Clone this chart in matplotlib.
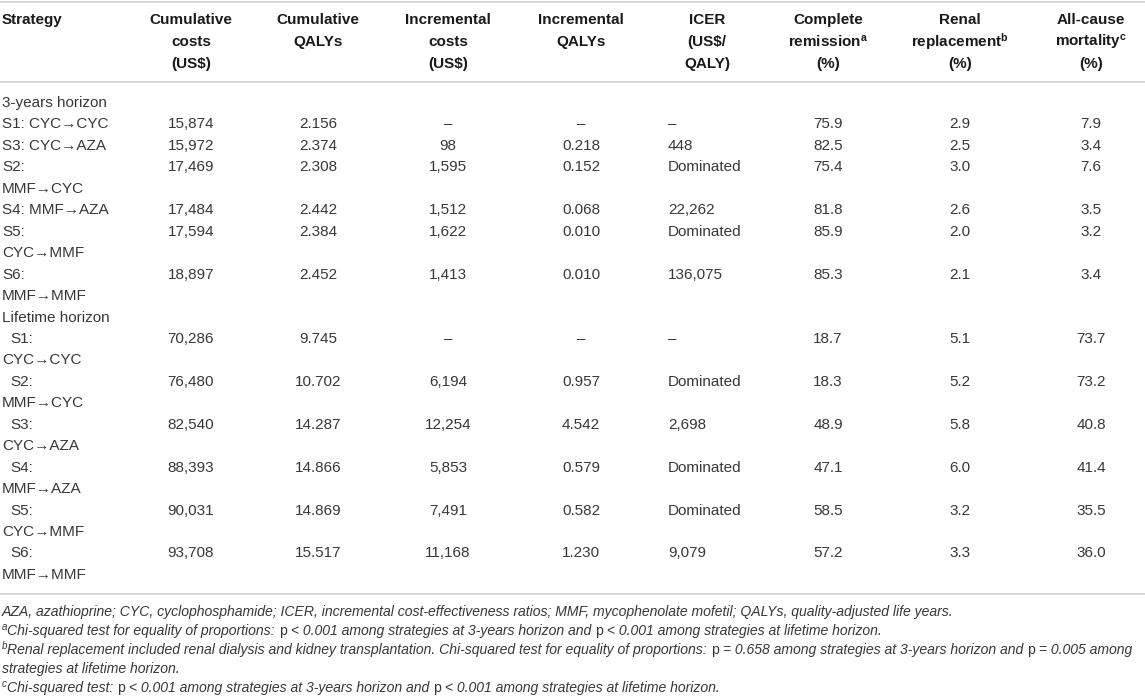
import matplotlib
matplotlib.use("Agg")
import matplotlib.pyplot as plt
from matplotlib.font_manager import FontProperties

plt.rcParams['font.family'] = ['Liberation Sans', 'DejaVu Sans']
plt.rcParams['mathtext.fontset'] = 'custom'
plt.rcParams['mathtext.rm'] = 'Liberation Sans'
plt.rcParams['mathtext.it'] = 'Liberation Sans:italic'
plt.rcParams['mathtext.bf'] = 'Liberation Sans:bold'

# ---------------- data ----------------
headers = [
    ["Strategy"],
    ["Cumulative", "costs", "(US$)"],
    ["Cumulative", "QALYs"],
    ["Incremental", "costs", "(US$)"],
    ["Incremental", "QALYs"],
    ["ICER", "(US$/", "QALY)"],
    ["Complete", r"remission$^{\mathbf{a}}$", "(%)"],
    ["Renal", r"replacement$^{\mathbf{b}}$", "(%)"],
    ["All-cause", r"mortality$^{\mathbf{c}}$", "(%)"],
]

horizons = ["3-years horizon", "Lifetime horizon"]

strategies_3y = [["S1: CYC→CYC"], ["S3: CYC→AZA"], ["S2:", "MMF→CYC"],
                 ["S4: MMF→AZA"], ["S5:", "CYC→MMF"], ["S6:", "MMF→MMF"]]
cum_costs_3y = ["15,874", "15,972", "17,469", "17,484", "17,594", "18,897"]
cum_qalys_3y = ["2.156", "2.374", "2.308", "2.442", "2.384", "2.452"]
inc_costs_3y = ["–", "98", "1,595", "1,512", "1,622", "1,413"]
inc_qalys_3y = ["–", "0.218", "0.152", "0.068", "0.010", "0.010"]
icer_3y = ["–", "448", "Dominated", "22,262", "Dominated", "136,075"]
remission_3y = ["75.9", "82.5", "75.4", "81.8", "85.9", "85.3"]
renal_3y = ["2.9", "2.5", "3.0", "2.6", "2.0", "2.1"]
mortality_3y = ["7.9", "3.4", "7.6", "3.5", "3.2", "3.4"]

strategies_lt = [["S1:", "CYC→CYC"], ["S2:", "MMF→CYC"], ["S3:", "CYC→AZA"],
                 ["S4:", "MMF→AZA"], ["S5:", "CYC→MMF"], ["S6:", "MMF→MMF"]]
cum_costs_lt = ["70,286", "76,480", "82,540", "88,393", "90,031", "93,708"]
cum_qalys_lt = ["9.745", "10.702", "14.287", "14.866", "14.869", "15.517"]
inc_costs_lt = ["–", "6,194", "12,254", "5,853", "7,491", "11,168"]
inc_qalys_lt = ["–", "0.957", "4.542", "0.579", "0.582", "1.230"]
icer_lt = ["–", "Dominated", "2,698", "Dominated", "Dominated", "9,079"]
remission_lt = ["18.7", "18.3", "48.9", "47.1", "58.5", "57.2"]
renal_lt = ["5.1", "5.2", "5.8", "6.0", "3.2", "3.3"]
mortality_lt = ["73.7", "73.2", "40.8", "41.4", "35.5", "36.0"]

# footnotes as runs: (text, kind) kind: 'i' italic, 'r' roman, 's' superscript italic
footnotes = [
    [("AZA, azathioprine; CYC, cyclophosphamide; ICER, incremental cost-effectiveness ratios; MMF, mycophenolate mofetil; QALYs, quality-adjusted life years.", "i")],
    [("a", "s"), ("Chi-squared test for equality of proportions: ", "i"), ("p", "r"),
     (" < 0.001 among strategies at 3-years horizon and ", "i"), ("p", "r"),
     (" < 0.001 among strategies at lifetime horizon.", "i")],
    [("b", "s"), ("Renal replacement included renal dialysis and kidney transplantation. Chi-squared test for equality of proportions: ", "i"),
     ("p", "r"), (" = 0.658 among strategies at 3-years horizon and ", "i"), ("p", "r"),
     (" = 0.005 among", "i")],
    [("strategies at lifetime horizon.", "i")],
    [("c", "s"), ("Chi-squared test: ", "i"), ("p", "r"),
     (" < 0.001 among strategies at 3-years horizon and ", "i"), ("p", "r"),
     (" < 0.001 among strategies at lifetime horizon.", "i")],
]

# ---------------- layout ----------------
W, H = 1145, 700
fig = plt.figure(figsize=(W / 100, H / 100), dpi=100)
ax = fig.add_axes([0, 0, 1, 1])
ax.set_xlim(0, W)
ax.set_ylim(H, 0)
ax.axis("off")
renderer = fig.canvas.get_renderer()

col_x = [2, 191, 318, 448, 581, 707, 828, 960, 1091]
icer_data_x = 668
fs = 11
body_color = "#383838"
head_color = "#1a1a1a"
line_color = "#cfcfcf"

# rules
for y in (1.5, 82, 594):
    ax.plot([0, W], [y, y], color=line_color, lw=1.2, solid_capstyle="butt")

# header
head_y = [20, 42, 64]
for i, lines in enumerate(headers):
    for j, t in enumerate(lines):
        ax.text(col_x[i], head_y[j], t, fontsize=fs, fontweight="bold",
                color=head_color, ha="left" if i == 0 else "center", va="center")

# body
row0 = 103
dy = 21.45
row = 0

def put_block(horizon, strategies, cols, indent):
    global row
    ax.text(2, row0 + row * dy, horizon, fontsize=fs, color=body_color, va="center")
    row += 1
    for k, lab in enumerate(strategies):
        y = row0 + row * dy
        for li, t in enumerate(lab):
            x = 2 + (indent if (li == 0 and len(lab) > 1 and indent) else 0)
            ax.text(x, row0 + (row + li) * dy, t, fontsize=fs, color=body_color, va="center")
        for ci, vals in enumerate(cols):
            if ci == 4:
                ax.text(icer_data_x, y, vals[k], fontsize=fs, color=body_color,
                        ha="left", va="center")
            else:
                ax.text(col_x[ci + 1], y, vals[k], fontsize=fs, color=body_color,
                        ha="center", va="center")
        row += len(lab)

put_block(horizons[0], strategies_3y,
          [cum_costs_3y, cum_qalys_3y, inc_costs_3y, inc_qalys_3y, icer_3y,
           remission_3y, renal_3y, mortality_3y], 0)
put_block(horizons[1], strategies_lt,
          [cum_costs_lt, cum_qalys_lt, inc_costs_lt, inc_qalys_lt, icer_lt,
           remission_lt, renal_lt, mortality_lt], 8)

# footnotes
fn_fs = 10.05

def props(kind):
    if kind == "r":
        return dict(size=fn_fs, style="normal")
    if kind == "s":
        return dict(size=fn_fs * 0.7, style="italic")
    return dict(size=fn_fs, style="italic")

def width_of(s, kind):
    p = props(kind)
    fp = FontProperties(family=['Liberation Sans', 'DejaVu Sans'], size=p["size"], style=p["style"])
    w1, _, _ = renderer.get_text_width_height_descent("x" + s + "x", fp, ismath=False)
    w0, _, _ = renderer.get_text_width_height_descent("xx", fp, ismath=False)
    return w1 - w0

fn_y0 = 612
fn_dy = 19
for i, runs in enumerate(footnotes):
    x = 2
    y = fn_y0 + i * fn_dy
    for s, kind in runs:
        p = props(kind)
        yy = y - 4 if kind == "s" else y
        ax.text(x, yy, s, fontsize=p["size"], style=p["style"], color=body_color,
                va="center", ha="left")
        x += width_of(s, kind)

fig.savefig("out.png", dpi=100)
